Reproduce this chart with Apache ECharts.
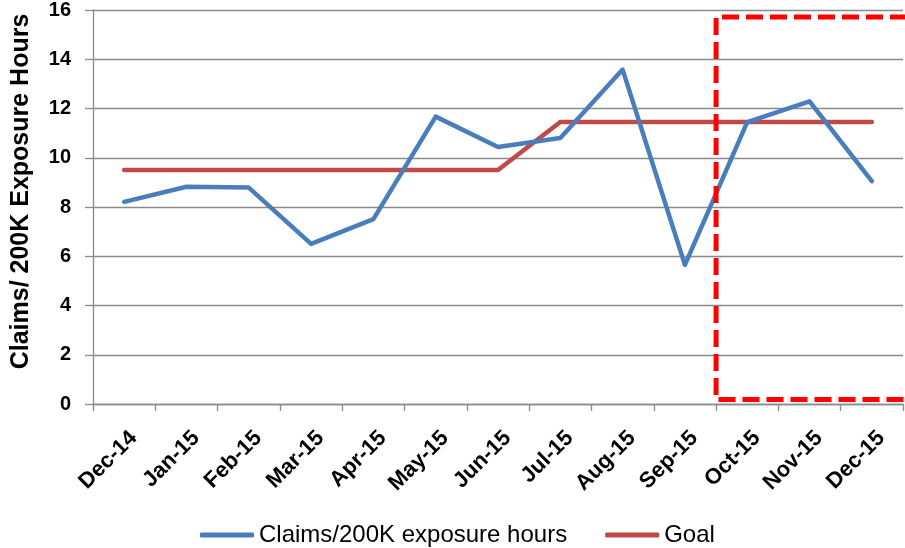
<!DOCTYPE html>
<html>
<head>
<meta charset="utf-8">
<script src="https://cdn.jsdelivr.net/npm/echarts@6/dist/echarts.min.js"></script>
<style>
  html, body { margin: 0; padding: 0; background: #ffffff; }
  #chart { width: 905px; height: 548px; }
</style>
</head>
<body>
<div id="chart"></div>
<script>
// Monthly claims rate per 200K exposure hours, with the goal line
const months = ['Dec-14', 'Jan-15', 'Feb-15', 'Mar-15', 'Apr-15', 'May-15', 'Jun-15',
                'Jul-15', 'Aug-15', 'Sep-15', 'Oct-15', 'Nov-15', 'Dec-15'];
const claimsRate = [8.21, 8.82, 8.79, 6.50, 7.51, 11.67, 10.44, 10.80, 13.58, 5.65, 11.45, 12.29, 9.05];
const goal = [9.5, 9.5, 9.5, 9.5, 9.5, 9.5, 9.5, 11.45, 11.45, 11.45, 11.45, 11.45, 11.45];
const yTicks = [0, 2, 4, 6, 8, 10, 12, 14, 16];

// Highlighted period: starts between these two months, spans these y values
const boxFrom = ['Sep-15', 'Oct-15'];
const boxRange = [0.18, 15.72];

const FONT = '"Liberation Sans", Arial, sans-serif';
const BLUE = '#4A7EBB';
const RED = '#BE4B48';
const GRID = '#8a8a8a';

const chart = echarts.init(document.getElementById('chart'), null, { renderer: 'canvas' });

const option = {
  animation: false,
  backgroundColor: '#ffffff',
  grid: { left: 93, right: 2, top: 10, bottom: 144, containLabel: false },
  legend: {
    left: 195,
    top: 518,
    itemWidth: 54,
    itemHeight: 5,
    itemGap: 38,
    icon: 'roundRect',
    textStyle: { fontFamily: FONT, fontSize: 24, color: '#000000' },
    data: ['Claims/200K exposure hours', 'Goal']
  },
  xAxis: {
    type: 'category',
    data: months,
    boundaryGap: true,
    axisLine: { lineStyle: { color: GRID, width: 1.3 } },
    axisTick: { show: true, length: 7, lineStyle: { color: GRID, width: 1.3 } },
    axisLabel: {
      interval: 0,
      rotate: 45,
      margin: 21,
      verticalAlign: 'top',
      lineHeight: 27,
      fontFamily: FONT,
      fontSize: 22,
      fontWeight: 'bold',
      color: '#000000'
    },
    splitLine: { show: false }
  },
  yAxis: {
    type: 'value',
    min: yTicks[0],
    max: yTicks[yTicks.length - 1],
    interval: 2,
    name: 'Claims/ 200K Exposure Hours',
    nameLocation: 'middle',
    nameGap: 59,
    nameTextStyle: {
      fontFamily: FONT,
      fontSize: 25,
      fontWeight: 'bold',
      color: '#000000',
      padding: [0, 0, 0, 31]
    },
    axisLine: { show: true, lineStyle: { color: GRID, width: 1.3 } },
    axisTick: { show: true, length: 8, lineStyle: { color: GRID, width: 1.3 } },
    axisLabel: {
      margin: 22,
      fontFamily: FONT,
      fontSize: 20,
      fontWeight: 'bold',
      color: '#000000'
    },
    splitLine: { show: true, lineStyle: { color: GRID, width: 1.3 } }
  },
  series: [
    {
      name: 'Claims/200K exposure hours',
      type: 'line',
      data: claimsRate,
      symbol: 'none',
      color: BLUE,
      lineStyle: { color: BLUE, width: 4.5, cap: 'round', join: 'round' },
      z: 3
    },
    {
      name: 'Goal',
      type: 'line',
      data: goal,
      symbol: 'none',
      color: RED,
      lineStyle: { color: RED, width: 4.5, cap: 'round', join: 'round' },
      z: 2
    }
  ]
};

chart.setOption(option);

// Red dashed frame marking the final quarter, placed through the axes
function drawFrame() {
  const xa = chart.convertToPixel({ xAxisIndex: 0 }, boxFrom[0]);
  const xb = chart.convertToPixel({ xAxisIndex: 0 }, boxFrom[1]);
  const xLeft = (xa + xb) / 2;
  const gridRect = chart.getModel().getComponent('grid', 0).coordinateSystem.getRect();
  const xRight = gridRect.x + gridRect.width + 4;
  const yBottom = chart.convertToPixel({ yAxisIndex: 0 }, boxRange[0]);
  const yTop = chart.convertToPixel({ yAxisIndex: 0 }, boxRange[1]);
  chart.setOption({
    graphic: [{
      type: 'polyline',
      z: 10,
      shape: { points: [[xRight, yTop], [xLeft, yTop], [xLeft, yBottom], [xRight, yBottom]] },
      style: { fill: null, stroke: '#FF0000', lineWidth: 5, lineDash: [17, 7] }
    }]
  });
}
drawFrame();
</script>
</body>
</html>
